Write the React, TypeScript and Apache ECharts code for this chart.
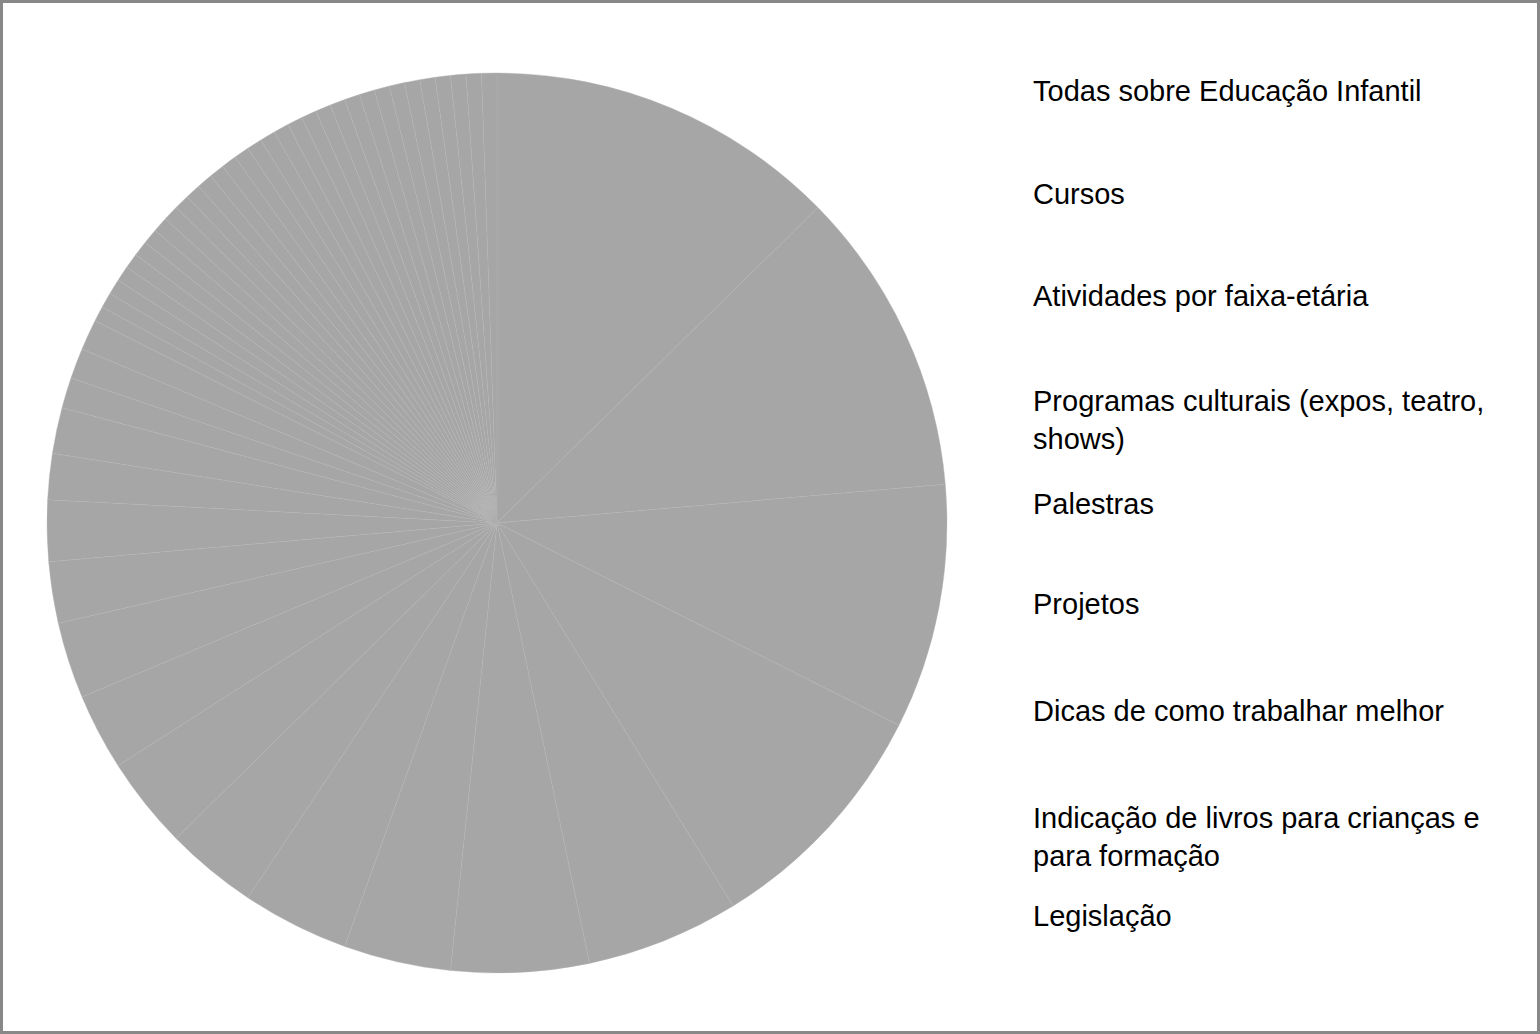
import React, { useEffect, useRef } from "react";
import * as echarts from "echarts";

const legendNames = [
  "Todas sobre Educação Infantil",
  "Cursos",
  "Atividades por faixa-etária",
  "Programas culturais (expos, teatro, shows)",
  "Palestras",
  "Projetos",
  "Dicas de como trabalhar melhor",
  "Indicação de livros para crianças e para formação",
  "Legislação",
];

const legendCounts = [23, 20, 16, 16, 10, 9, 7, 7, 6];

// remaining (unlabelled in legend) answers, in drawing order
const otherCounts = [
  6, 5, 5, 4, 4, 3, 3, 2, 2, 2,
  1, 1, 1, 1, 1, 1, 1, 1, 1, 1,
  1, 1, 1, 1, 1, 1, 1, 1, 1, 1,
  1, 1, 1, 1, 1, 1, 1, 1, 1, 1,
  1, 1,
];

const legendTops = [67, 170, 272, 377, 480, 580, 687, 794, 892];

export default function App() {
  const ref = useRef<HTMLDivElement>(null);

  useEffect(() => {
    document.body.style.margin = "0";
    const chart = echarts.init(ref.current!, null, { renderer: "svg" });
    const data = [
      ...legendNames.map((n, i) => ({ name: n, value: legendCounts[i] })),
      ...otherCounts.map((v, i) => ({ name: "Outras respostas " + (i + 1), value: v })),
    ];
    const legends = legendNames.map((n, i) => ({
      data: [n],
      orient: "vertical",
      left: 1023,
      top: legendTops[i],
      icon: "none",
      itemWidth: 0,
      itemHeight: 10,
      itemGap: 0,
      selectedMode: false,
      textStyle: {
        fontFamily: "Liberation Sans",
        fontSize: 29,
        color: "#000",
        width: 500,
        overflow: "break",
        lineHeight: 38,
      },
    }));
    chart.setOption({
      animation: false,
      backgroundColor: "#fff",
      color: ["#a6a6a6"],
      legend: legends,
      graphic: [
        {
          type: "rect",
          shape: { x: 1.5, y: 1.5, width: 1537, height: 1031 },
          style: { fill: "none", stroke: "#888888", lineWidth: 3 },
          z: 100,
        },
      ],
      series: [
        {
          type: "pie",
          center: [497, 523],
          radius: [0, 450],
          startAngle: 90,
          clockwise: true,
          avoidLabelOverlap: false,
          label: { show: false },
          labelLine: { show: false },
          emphasis: { disabled: true },
          itemStyle: { color: "#a6a6a6", borderColor: "#b4b4b4", borderWidth: 0.4 },
          data,
        },
      ],
    });
    return () => chart.dispose();
  }, []);

  return (
    <div
      ref={ref}
      style={{ position: "fixed", left: 0, top: 0, width: 1540, height: 1034 }}
    />
  );
}
